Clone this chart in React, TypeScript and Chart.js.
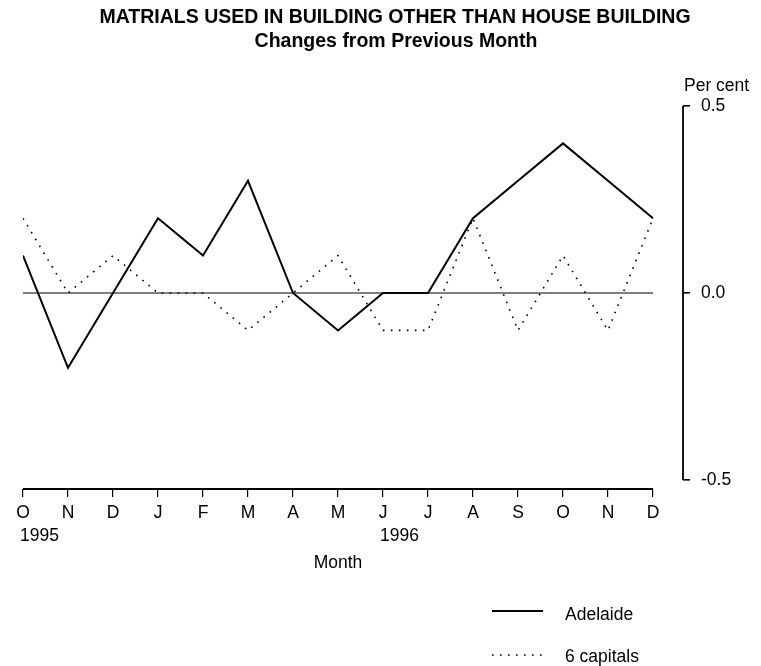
import React, { useEffect, useRef } from "react";
import { Chart, registerables } from "chart.js";

Chart.register(...registerables);

const months = ["O", "N", "D", "J", "F", "M", "A", "M", "J", "J", "A", "S", "O", "N", "D"];
const yearLabels = [
  { index: 0, text: "1995" },
  { index: 8, text: "1996" },
];
const adelaide = [0.1, -0.2, 0.0, 0.2, 0.1, 0.3, 0.0, -0.1, 0.0, 0.0, 0.2, 0.3, 0.4, 0.3, 0.2];
const sixCapitals = [0.2, 0.0, 0.1, 0.0, 0.0, -0.1, 0.0, 0.1, -0.1, -0.1, 0.2, -0.1, 0.1, -0.1, 0.2];
const yTicks = [-0.5, 0.0, 0.5];
const titleLines = ["MATRIALS USED IN BUILDING OTHER THAN HOUSE BUILDING", "Changes from Previous Month"];
const seriesNames = ["Adelaide", "6 capitals"];

const FONT = "'Liberation Sans', Arial, Helvetica, sans-serif";
const DOT_DASH = [1.6, 6.4];
const LABEL_SIZE = 17.5;

export default function App() {
  const ref = useRef<HTMLCanvasElement | null>(null);

  useEffect(() => {
    if (!ref.current) return;
    Chart.defaults.font.family = FONT;
    Chart.defaults.color = "#000";

    const decor = {
      id: "decor",
      beforeDatasetsDraw(chart: any) {
        const { ctx, chartArea, scales } = chart;
        const x = scales.x;
        const y = scales.y;
        ctx.save();
        ctx.strokeStyle = "#000";
        // zero line
        ctx.lineWidth = 1;
        ctx.beginPath();
        ctx.moveTo(x.getPixelForValue(0), y.getPixelForValue(0));
        ctx.lineTo(x.getPixelForValue(months.length - 1), y.getPixelForValue(0));
        ctx.stroke();
        // x axis line
        ctx.lineWidth = 1.8;
        ctx.beginPath();
        ctx.moveTo(x.getPixelForValue(0), chartArea.bottom);
        ctx.lineTo(x.getPixelForValue(months.length - 1), chartArea.bottom);
        ctx.stroke();
        // y axis line
        ctx.beginPath();
        ctx.moveTo(chartArea.right, y.getPixelForValue(yTicks[yTicks.length - 1]));
        ctx.lineTo(chartArea.right, y.getPixelForValue(yTicks[0]));
        ctx.stroke();
        ctx.restore();
      },
      afterDraw(chart: any) {
        const { ctx, chartArea, scales } = chart;
        const x = scales.x;
        ctx.save();
        ctx.fillStyle = "#000";
        ctx.textBaseline = "middle";
        // title
        ctx.textAlign = "center";
        ctx.font = `bold 19.5px ${FONT}`;
        ctx.fillText(titleLines[0], 395, 18);
        ctx.font = `bold 19.5px ${FONT}`;
        ctx.fillText(titleLines[1], 396, 42);
        // per cent
        ctx.textAlign = "left";
        ctx.font = `${LABEL_SIZE}px ${FONT}`;
        ctx.fillText("Per cent", chartArea.right + 1, 86);
        // years
        yearLabels.forEach((yl) => {
          ctx.fillText(yl.text, x.getPixelForValue(yl.index) - 3, 536);
        });
        // axis title
        ctx.textAlign = "center";
        ctx.fillText("Month", (x.getPixelForValue(0) + x.getPixelForValue(months.length - 1)) / 2, 563);
        // legend
        const lx1 = 492;
        const lx2 = 543;
        const rows = [
          { y: 611, ty: 615, dash: [] as number[], w: 2 },
          { y: 655, ty: 657, dash: DOT_DASH, w: 1.6 },
        ];
        rows.forEach((r, i) => {
          ctx.strokeStyle = "#000";
          ctx.lineWidth = r.w;
          ctx.setLineDash(r.dash);
          ctx.beginPath();
          ctx.moveTo(lx1, r.y);
          ctx.lineTo(lx2, r.y);
          ctx.stroke();
          ctx.setLineDash([]);
          ctx.textAlign = "left";
          ctx.fillText(seriesNames[i], 565, r.ty);
        });
        ctx.restore();
      },
    };

    const chart = new Chart(ref.current, {
      type: "line",
      data: {
        datasets: [
          {
            label: seriesNames[0],
            data: adelaide.map((v, i) => ({ x: i, y: v })),
            borderColor: "#000",
            borderWidth: 2,
            pointRadius: 0,
            tension: 0,
            fill: false,
          },
          {
            label: seriesNames[1],
            data: sixCapitals.map((v, i) => ({ x: i, y: v })),
            borderColor: "#000",
            borderWidth: 1.6,
            borderDash: DOT_DASH,
            pointRadius: 0,
            tension: 0,
            fill: false,
          },
        ],
      },
      options: {
        animation: false,
        responsive: true,
        maintainAspectRatio: false,
        layout: { padding: { left: 23, top: 106, right: 0, bottom: 0 } },
        plugins: {
          legend: { display: false },
          title: { display: false },
          tooltip: { enabled: false },
        },
        scales: {
          x: {
            type: "linear",
            min: 0,
            max: months.length - 1 + 30 / 45,
            border: { display: false },
            grid: {
              display: true,
              drawOnChartArea: false,
              drawTicks: true,
              tickLength: 8,
              color: "#000",
              lineWidth: 1.2,
            },
            afterBuildTicks: (s: any) => {
              s.ticks = months.map((_, i) => ({ value: i }));
            },
            afterFit: (s: any) => {
              s.height = 177;
            },
            ticks: {
              autoSkip: false,
              maxRotation: 0,
              padding: 6,
              color: "#000",
              font: { size: LABEL_SIZE, family: FONT },
              callback: (v: any) => months[v as number] ?? "",
            },
          },
          y: {
            position: "right",
            min: -0.524,
            max: 0.5,
            border: { display: false },
            grid: {
              display: true,
              drawOnChartArea: false,
              drawTicks: true,
              tickLength: 7,
              color: "#000",
              lineWidth: 1.6,
            },
            afterBuildTicks: (s: any) => {
              s.ticks = yTicks.map((v) => ({ value: v }));
            },
            afterFit: (s: any) => {
              s.width = 78;
            },
            ticks: {
              padding: 11,
              color: "#000",
              font: { size: LABEL_SIZE, family: FONT },
              callback: (v: any) => Number(v).toFixed(1),
            },
          },
        },
      },
      plugins: [decor],
    });
    return () => chart.destroy();
  }, []);

  return (
    <div style={{ position: "absolute", left: 0, top: 0, width: 761, height: 666, background: "#fff" }}>
      <canvas ref={ref} />
    </div>
  );
}
